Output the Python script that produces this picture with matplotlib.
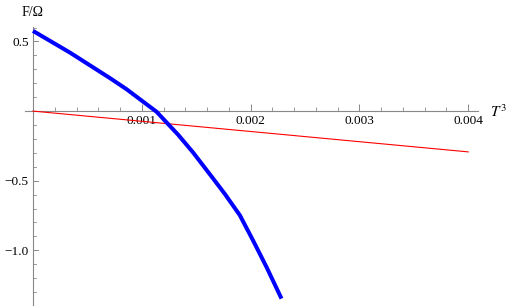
import numpy as np
import matplotlib
matplotlib.use("Agg")
import matplotlib.pyplot as plt
from matplotlib.ticker import MultipleLocator, FixedLocator

plt.rcParams['font.family'] = ['Liberation Serif', 'DejaVu Serif']
plt.rcParams['mathtext.fontset'] = 'stix'

# blue curve F/Omega vs T^3
t3_blue = [0.0, 0.000340, 0.000707, 0.000860, 0.001136, 0.001334, 0.001472,
           0.001656, 0.001763, 0.001901, 0.002023, 0.002146, 0.002284]
f_blue = [0.576, 0.420, 0.237, 0.157, -0.005, -0.170, -0.298,
          -0.485, -0.595, -0.748, -0.930, -1.120, -1.347]

# red straight line
t3_red = [0.0, 0.004]
f_red = [0.0, -0.293]

xticks = [0.001, 0.002, 0.003, 0.004]
xticklabels = ['0.001', '0.002', '0.003', '0.004']
yticks = [0.5, -0.5, -1.0]
yticklabels = ['0.5', '\u22120.5', '\u22121.0']

fig = plt.figure(figsize=(5.07, 3.06), dpi=100)
ax = fig.add_axes([25 / 507, 0.0, 453 / 507, 279 / 306])

ax.plot(t3_red, f_red, color='#ff0000', lw=0.8, zorder=3)
ax.plot(t3_blue, f_blue, color='#0000ff', lw=2.9, zorder=4,
        solid_capstyle='butt', solid_joinstyle='round')

ax.set_xlim(-0.0000735, 0.00409)
ax.set_ylim(-1.40, 0.604)

for s in ['top', 'right']:
    ax.spines[s].set_visible(False)
for s in ['left', 'bottom']:
    ax.spines[s].set_position(('data', 0))
    ax.spines[s].set_color('#888888')
    ax.spines[s].set_linewidth(0.8)

ax.xaxis.set_major_locator(FixedLocator(xticks))
ax.set_xticklabels(xticklabels)
ax.xaxis.set_minor_locator(MultipleLocator(0.0002))
ax.yaxis.set_major_locator(FixedLocator(yticks))
ax.set_yticklabels(yticklabels)
ax.yaxis.set_minor_locator(MultipleLocator(0.1))

ax.tick_params(axis='x', which='major', direction='in', length=5, width=0.7,
               color='#888888', labelsize=9.5, pad=3)
ax.tick_params(axis='x', which='minor', direction='in', length=3, width=0.6,
               color='#888888')
ax.tick_params(axis='y', which='major', direction='out', length=0, width=0.7,
               color='#888888', labelsize=9.5, pad=3)
ax.tick_params(axis='y', which='minor', length=0)

# y ticks drawn on the right side of the axis, like the reference
for v in np.arange(-1.4, 0.61, 0.1):
    if abs(v) < 1e-9:
        continue
    major = abs(v * 2 - round(v * 2)) < 1e-6
    L = 5 if major else 3
    ax.plot([0, L / 108900.0], [v, v], color='#888888',
            lw=0.7 if major else 0.6, clip_on=False, zorder=2)

fig.text(22 / 507, 1 - 12 / 306, 'F/\u03a9', fontsize=10, va='center', ha='left')
fig.text(490 / 507, 1 - 112 / 306, '$T^3$', fontsize=11, va='center', ha='left')

fig.savefig('out.png', dpi=100)
